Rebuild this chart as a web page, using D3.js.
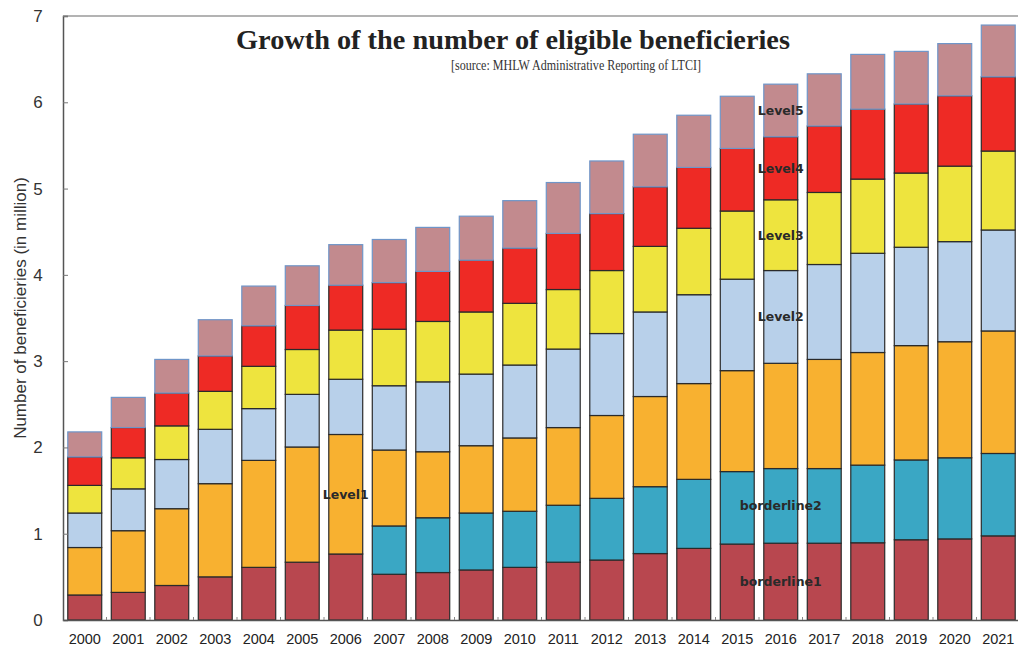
<!DOCTYPE html>
<html>
<head>
<meta charset="utf-8">
<script src="https://cdn.jsdelivr.net/npm/d3@7"></script>
<style>
  html, body { margin: 0; padding: 0; background: #ffffff; }
  svg { display: block; }
</style>
</head>
<body>
<svg id="chart" width="1018" height="650"></svg>
<script>
// ---- data (million beneficiaries) ----
const years = ["2000","2001","2002","2003","2004","2005","2006","2007","2008","2009","2010",
               "2011","2012","2013","2014","2015","2016","2017","2018","2019","2020","2021"];
const borderline1 = [0.29,0.32,0.40,0.50,0.61,0.67,0.765,0.53,0.55,0.58,0.61,0.67,0.695,0.77,0.83,0.88,0.89,0.89,0.895,0.93,0.94,0.975];
const borderline2 = [0,0,0,0,0,0,0,0.56,0.635,0.66,0.65,0.66,0.715,0.775,0.80,0.84,0.865,0.865,0.90,0.925,0.94,0.955];
const level1 = [0.55,0.715,0.89,1.08,1.24,1.335,1.385,0.88,0.765,0.78,0.85,0.90,0.96,1.045,1.11,1.17,1.22,1.265,1.305,1.325,1.345,1.42];
const level2 = [0.40,0.485,0.57,0.63,0.60,0.61,0.64,0.745,0.81,0.83,0.845,0.91,0.95,0.98,1.03,1.06,1.075,1.10,1.15,1.14,1.16,1.17];
const level3 = [0.32,0.36,0.39,0.44,0.49,0.52,0.57,0.655,0.70,0.72,0.715,0.69,0.73,0.76,0.77,0.79,0.82,0.835,0.86,0.86,0.875,0.915];
const level4 = [0.33,0.35,0.38,0.41,0.47,0.51,0.52,0.54,0.58,0.60,0.64,0.65,0.66,0.69,0.705,0.725,0.73,0.77,0.81,0.80,0.815,0.86];
const level5 = [0.29,0.35,0.39,0.42,0.46,0.46,0.47,0.50,0.51,0.51,0.55,0.59,0.61,0.61,0.605,0.605,0.61,0.605,0.635,0.61,0.605,0.60];
const seriesKeys = ["borderline1","borderline2","Level1","Level2","Level3","Level4","Level5"];
const seriesColors = ["#b8474f","#3aa7c4","#f8b130","#b8d0ea","#eee43e","#ee2a25","#c28a8e"];
const yTicks = [0,1,2,3,4,5,6,7];
// labels: which year's bar each annotation sits on
const labelYear = {"borderline1":"2016","borderline2":"2016","Level1":"2006","Level2":"2016","Level3":"2016","Level4":"2016","Level5":"2016"};

const titleText = "Growth of the number of eligible beneficieries";
const subtitleText = "[source: MHLW Administrative Reporting of LTCI]";
const yLabelText = "Number of beneficieries (in million)";

// ---- build table ----
const seriesArrays = [borderline1,borderline2,level1,level2,level3,level4,level5];
const table = years.map((yr,i) => {
  const row = {year: yr};
  seriesKeys.forEach((k,j) => row[k] = seriesArrays[j][i]);
  return row;
});

const svg = d3.select("#chart");
const x = d3.scaleBand().domain(years).range([63, 1020]).paddingInner(0.22).paddingOuter(0.11);
const y = d3.scaleLinear().domain([0,7]).range([620, 16]);
const color = d3.scaleOrdinal().domain(seriesKeys).range(seriesColors);

const stack = d3.stack().keys(seriesKeys);
const stacked = stack(table);

// top frame line
svg.append("line").attr("x1",63).attr("x2",1018).attr("y1",y(7)).attr("y2",y(7))
  .attr("stroke","#9a9a9a").attr("stroke-width",1.5);

// bars
const groups = svg.append("g").selectAll("g").data(stacked).join("g")
  .attr("fill", d => color(d.key))
  .attr("stroke", d => d.key === "Level5" ? "#6f95c8" : "#2a2a2a");

groups.selectAll("rect").data(d => d.filter(s => s[1] - s[0] > 0)).join("rect")
  .attr("x", d => x(d.data.year))
  .attr("y", d => y(d[1]))
  .attr("width", x.bandwidth())
  .attr("height", d => y(d[0]) - y(d[1]))
  .attr("stroke-width", 1.2);

// y axis
const yAxis = d3.axisRight(y).tickValues(yTicks).tickSize(5).tickFormat(d3.format("d"));
const ya = svg.append("g").attr("transform","translate(63,0)").call(yAxis);
ya.select(".domain").attr("stroke","#555").attr("stroke-width",1.5);
ya.selectAll(".tick line").attr("stroke","#777");
ya.selectAll(".tick text").attr("x",-25).attr("text-anchor","middle")
  .attr("font-family","Liberation Sans, Arial, sans-serif").attr("font-size",17).attr("fill","#333");

// x axis
const xAxis = d3.axisBottom(x).tickSize(0).tickPadding(14);
const xa = svg.append("g").attr("transform","translate(0,620)").call(xAxis);
xa.select(".domain").attr("stroke","#555").attr("stroke-width",1.5);
xa.selectAll(".tick text").attr("font-family","Liberation Sans, Arial, sans-serif")
  .attr("font-size",14.5).attr("fill","#222");
// small marks between bars on baseline
svg.append("g").selectAll("line").data(years.slice(1)).join("line")
  .attr("x1", d => x(d) - x.step()*x.paddingInner()/2)
  .attr("x2", d => x(d) - x.step()*x.paddingInner()/2)
  .attr("y1", 617).attr("y2", 620).attr("stroke","#888");

// title
svg.append("text").attr("x",513).attr("y",49).attr("text-anchor","middle")
  .attr("font-family","Liberation Serif, Times New Roman, serif").attr("font-weight","bold")
  .attr("font-size",28.3).attr("fill","#222").text(titleText);
svg.append("text").attr("x",576).attr("y",70).attr("text-anchor","middle")
  .attr("font-family","Liberation Serif, Times New Roman, serif")
  .attr("font-size",15).attr("textLength",250).attr("lengthAdjust","spacingAndGlyphs")
  .attr("fill","#333").text(subtitleText);

// y label
svg.append("text").attr("transform","translate(26,308) rotate(-90)").attr("text-anchor","middle")
  .attr("font-family","Liberation Sans, Arial, sans-serif").attr("font-size",17).attr("fill","#333")
  .text(yLabelText);

// in-bar annotations
stacked.forEach(s => {
  const yr = labelYear[s.key];
  const seg = s.find(d => d.data.year === yr);
  svg.append("text")
    .attr("x", x(yr) + x.bandwidth()/2)
    .attr("y", y((seg[0]+seg[1])/2))
    .attr("dy","0.35em")
    .attr("text-anchor","middle")
    .attr("font-family","DejaVu Sans, Liberation Sans, sans-serif")
    .attr("font-size",12.5).attr("font-weight","bold").attr("fill","#2a2a2a")
    .text(s.key);
});
</script>
</body>
</html>
